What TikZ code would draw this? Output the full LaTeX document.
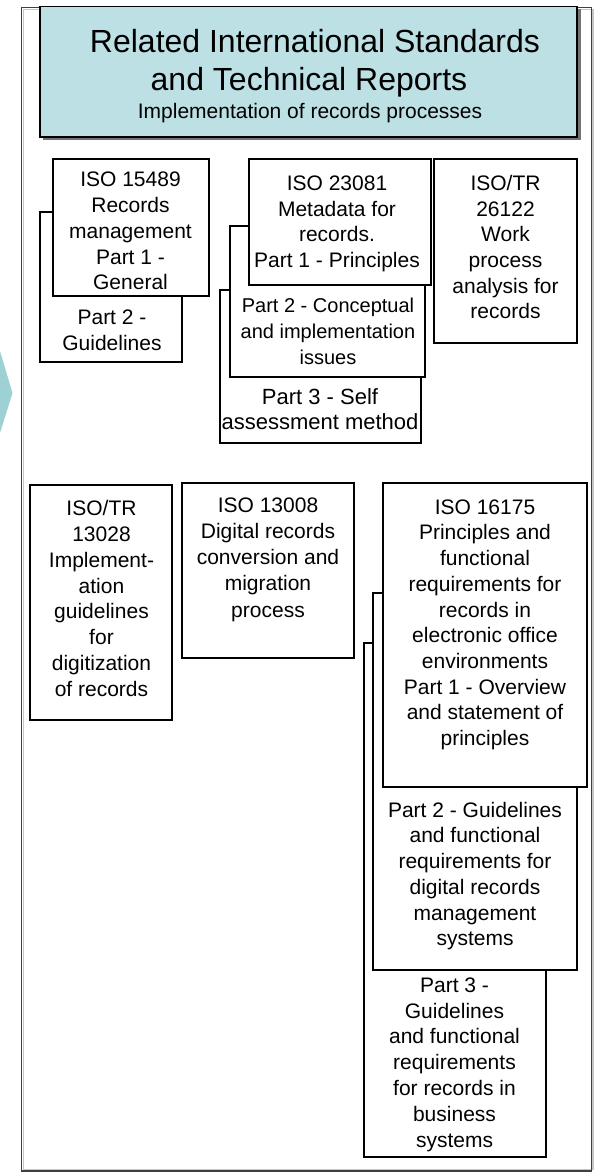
\documentclass[tikz,border=0pt]{standalone}
\usepackage{fontspec}
\setmainfont{Liberation Sans}
\definecolor{hdrfill}{RGB}{189,224,228}
\definecolor{chev}{RGB}{157,209,212}
\newcommand{\fl}{\rule{0pt}{16pt}}
\tikzset{
  sbox/.style={draw=black, line width=2pt, fill=white},
  txt/.style={anchor=north, inner sep=0pt, align=center, font=\fontsize{21}{25.8}\selectfont},
  ttl/.style={anchor=base, inner sep=0pt, font=\fontsize{32}{38}\selectfont},
}
\begin{document}
\begin{tikzpicture}[x=1pt, y=-1pt]
\useasboundingbox (0,0) rectangle (595,1173);
% chevron at left edge
\fill[chev] (0,351) -- (12.5,393) -- (0,433) -- cycle;
% outer frame
\draw[gray!45, line width=1.2pt] (23.5,9.5) rectangle (593,1169.5);
\draw[black!75, line width=1.3pt] (21.5,7.5) rectangle (591.5,1171);
% header
\fill[black!55] (43,9) rectangle (580.5,140);
\draw[black, line width=1.6pt, fill=hdrfill] (40,6.5) rectangle (577,137);
\node[ttl] (title1) at (315,52) {Related International Standards};
\node[ttl] (title2) at (309,90) {and Technical Reports};
\node[anchor=base, inner sep=0pt, font=\fontsize{21}{25}\selectfont] (subtitle) at (310,118) {Implementation of records processes};

% ISO 15489
\draw[sbox] (40,212) rectangle (182,362);
\node[txt] (p2guide) at (112,308) {\fl Part 2 -\\Guidelines};
\draw[sbox] (53,159) rectangle (209,296);
\node[txt] (iso15489) at (130.5,170.5) {\fl ISO 15489\\Records\\management\\Part 1 -\\General};

% ISO 23081
\draw[sbox] (220,290) rectangle (421,443);
\node[txt, font=\fontsize{22}{25.3}\selectfont] (p3self) at (320,388) {\fl Part 3 - Self\\assessment method};
\draw[sbox] (230,226) rectangle (425,377);
\node[txt, font=\fontsize{20}{26}\selectfont] (p2conc) at (328,296) {\fl Part 2 - Conceptual\\and implementation\\issues};
\draw[sbox] (249,159) rectangle (431,285);
\node[txt, font=\fontsize{21}{25.6}\selectfont] (iso23081) at (337,174.5) {\fl ISO 23081\\Metadata for\\records.\\Part 1 - Principles};

% ISO/TR 26122
\draw[sbox] (434,159) rectangle (577,343);
\node[txt, font=\fontsize{21}{25.6}\selectfont] (iso26122) at (505.5,174.5) {\fl ISO/TR\\26122\\Work\\process\\analysis for\\records};

% ISO/TR 13028
\draw[sbox] (30,485) rectangle (172,720);
\node[txt] (iso13028) at (101.5,499.5) {\fl ISO/TR\\13028\\Implement-\\ation\\guidelines\\for\\digitization\\of records};

% ISO 13008
\draw[sbox] (182,483) rectangle (354,658);
\node[txt, font=\fontsize{21}{26.2}\selectfont] (iso13008) at (268,496) {\fl ISO 13008\\Digital records\\conversion and\\migration\\process};

% ISO 16175
\draw[sbox] (364,643) rectangle (546,1157);
\node[txt] (p3bus) at (454.5,976) {\fl Part 3 -\\Guidelines\\and functional\\requirements\\for records in\\business\\systems};
\draw[sbox] (373,593) rectangle (577,970);
\node[txt, font=\fontsize{21}{25.7}\selectfont] (p2drms) at (475,801) {\fl Part 2 - Guidelines\\and functional\\requirements for\\digital records\\management\\systems};
\draw[sbox] (383,483) rectangle (587,787);
\node[txt, font=\fontsize{21}{25.7}\selectfont] (iso16175) at (485,498) {\fl ISO 16175\\Principles and\\functional\\requirements for\\records in\\electronic office\\environments\hspace*{24pt}\\Part 1 - Overview\\and statement of\\principles};
\end{tikzpicture}
\end{document}
